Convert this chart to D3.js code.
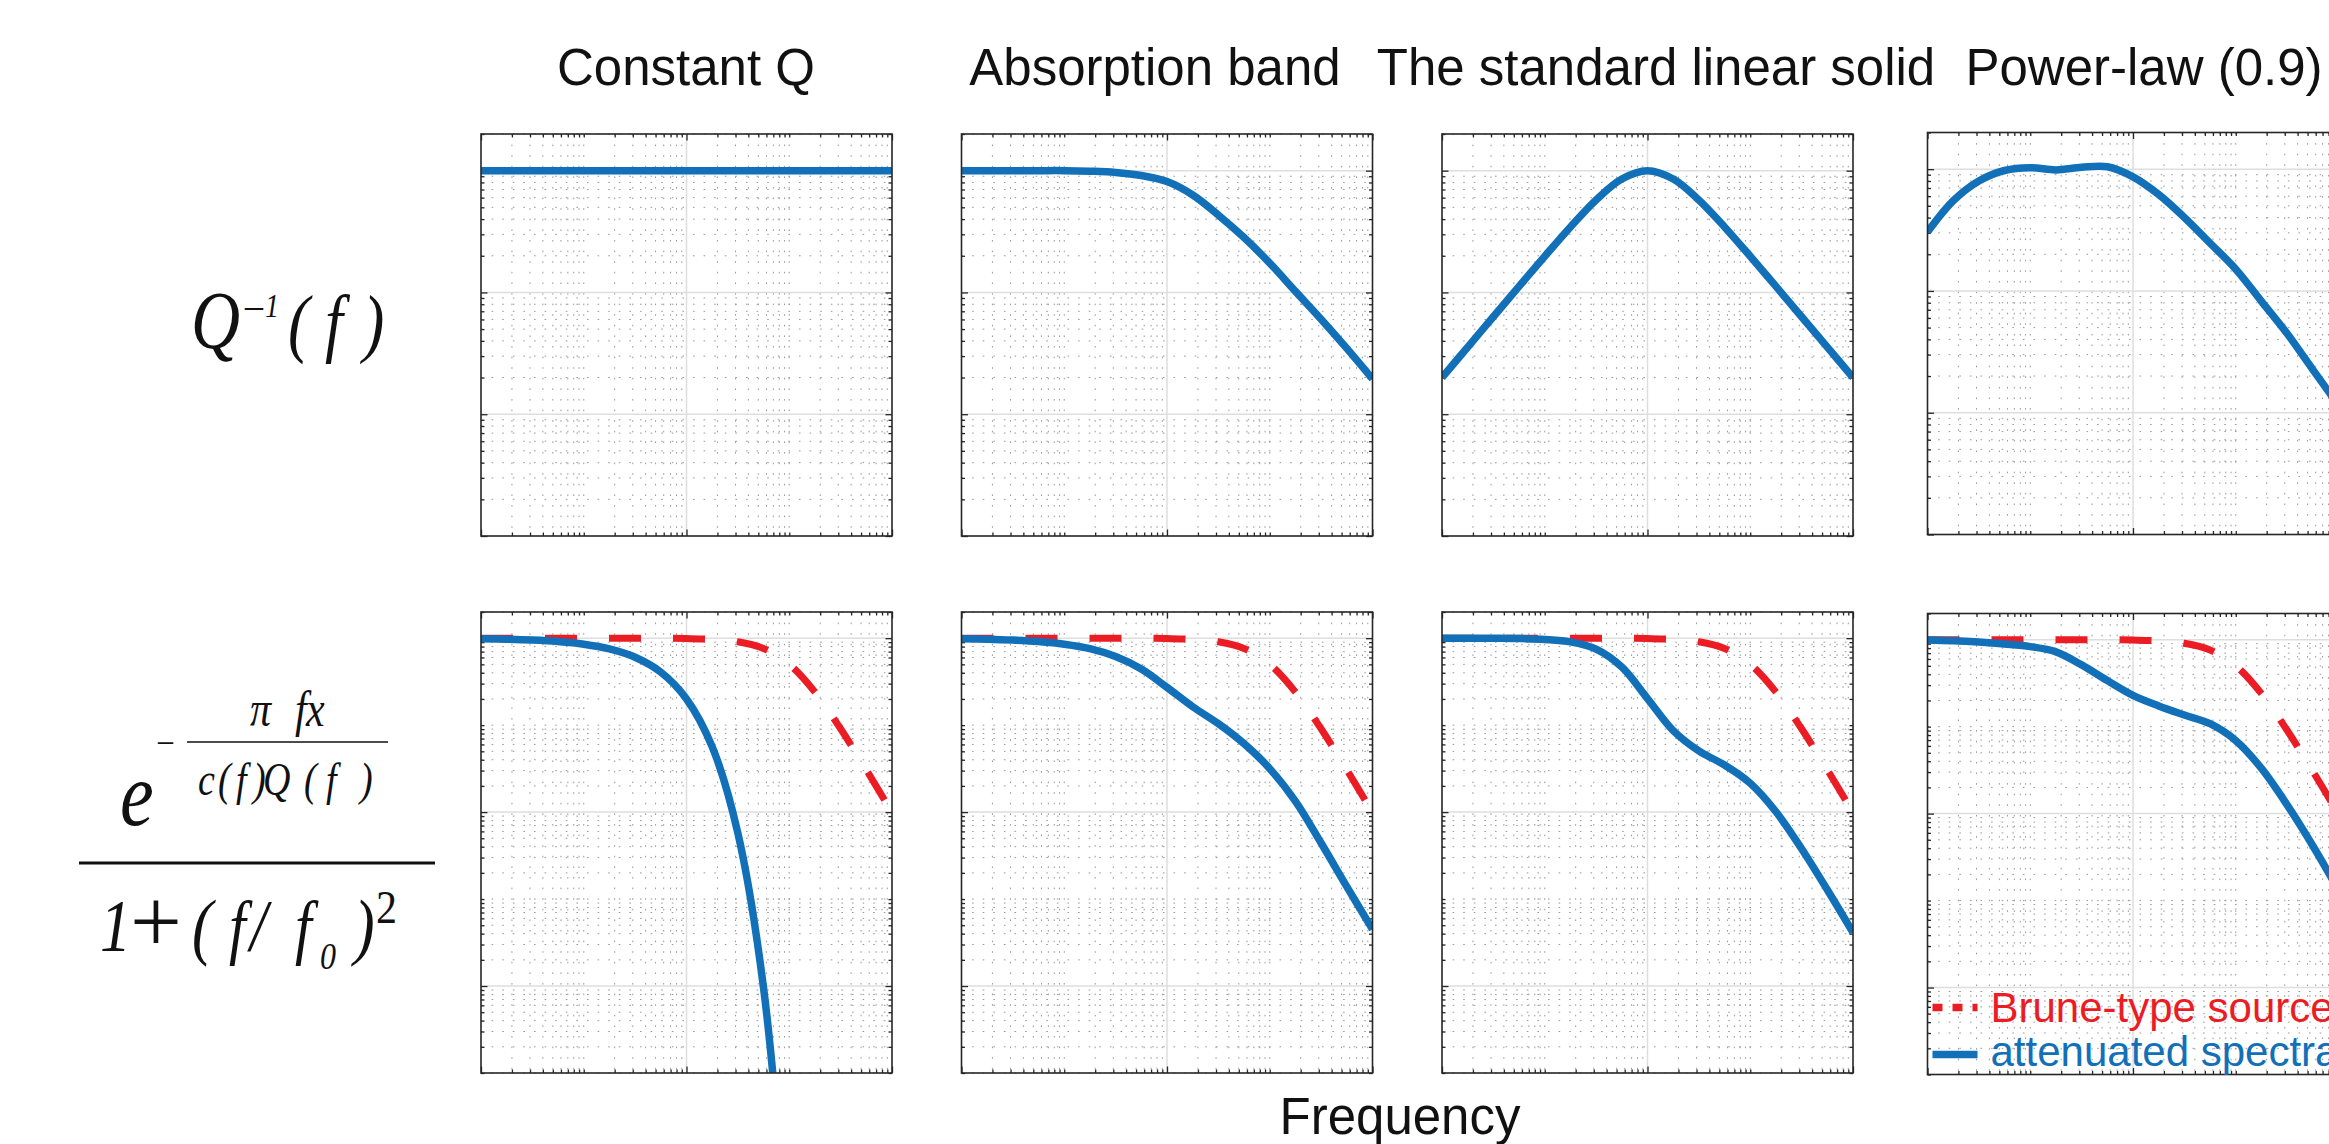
<!DOCTYPE html>
<html>
<head>
<meta charset="utf-8">
<script src="https://cdn.jsdelivr.net/npm/d3@7"></script>
<style>
  html, body { margin: 0; padding: 0; background: #fff; }
  svg { display: block; }
  .sans { font-family: "Liberation Sans", Arial, Helvetica, sans-serif; }
  .math { font-family: "Liberation Serif", "Times New Roman", serif; fill: #111; }
</style>
</head>
<body>
<svg id="chart" width="2329" height="1144"></svg>
<script>
// ---- data -----------------------------------------------------------------
// normalised frequency, quarter-decade samples
const frequency = [0.01, 0.0178, 0.0316, 0.0562, 0.1, 0.178, 0.316, 0.562, 1,
                   1.78, 3.16, 5.62, 10, 17.8, 31.6, 56.2, 100];

const models = ["Constant Q", "Absorption band", "The standard linear solid", "Power-law (0.9)"];

// Q^-1(f), normalised
const qConstant   = [1, 1, 1, 1, 1, 1, 1, 1, 1, 1, 1, 1, 1, 1, 1, 1, 1];
const qAbsorption = [1, 1, 1, 1, 1, 0.989, 0.966, 0.912, 0.813, 0.631, 0.432, 0.282,
                     0.174, 0.102, 0.0603, 0.0347, 0.0195];
const qSLS        = [0.02, 0.0356, 0.0632, 0.112, 0.198, 0.345, 0.575, 0.855, 1,
                     0.855, 0.575, 0.345, 0.198, 0.112, 0.0632, 0.0356, 0.02];
const qPowerLaw   = [0.305, 0.55, 0.8, 0.975, 1.028, 0.986, 1.035, 1.047, 0.865,
                     0.619, 0.401, 0.247, 0.151, 0.0822, 0.0447, 0.0226, 0.0115];

// Brune-type source spectrum
const bruneSource = [1, 1, 1, 1, 1, 1, 0.999, 0.997, 0.99, 0.969, 0.909, 0.76,
                     0.5, 0.24, 0.0909, 0.0307, 0.0099];

// attenuated spectra
const attConstant   = [0.984, 0.972, 0.951, 0.914, 0.853, 0.752, 0.603, 0.407, 0.2,
                       0.0562, 0.00575, 9.55e-5, 5.75e-8, null, null, null, null];
const attAbsorption = [0.984, 0.973, 0.951, 0.914, 0.853, 0.757, 0.614, 0.442, 0.272,
                       0.163, 0.104, 0.0612, 0.0316, 0.0133, 0.00441, 0.00139, 0.000448];
const attSLS        = [1, 1, 0.998, 0.991, 0.968, 0.908, 0.748, 0.465, 0.202,
                       0.0865, 0.0505, 0.0348, 0.0215, 0.0101, 0.00379, 0.00128, 0.000413];
const attPowerLaw   = [0.993, 0.973, 0.938, 0.891, 0.832, 0.724, 0.513, 0.339, 0.229,
                       0.173, 0.136, 0.108, 0.0692, 0.0331, 0.0126, 0.00427, 0.00132];

const xMajorTicks       = [0.01, 1, 100];
const yTopMajorTicks    = [0.001, 0.01, 0.1, 1];
const yBottomMajorTicks = [1e-4, 1e-2, 1];
const legendLabels      = ["Brune-type source", "attenuated spectra"];
const axisLabel         = "Frequency";

// ---- layout ---------------------------------------------------------------
const BLUE = "#1170B8", RED = "#EC1C24";
const PW = 411;
const panelLeft = [481, 961.5, 1442, 1927.5];
const topRowY = [134, 134, 134, 132.5], TOP_H = 402;
const botRowY = [612, 612, 612, 613.5], BOT_H = 461;
const titleX = [686, 1155, 1656, 2144];

const svg = d3.select("#chart");
svg.append("rect").attr("width", 2329).attr("height", 1144).attr("fill", "#fff");
const defs = svg.append("defs");

const x = d3.scaleLog().domain([0.01, 100]).range([0, PW]);
const yTop = d3.scaleLog().domain([1e-3, 2]).range([TOP_H, 0]);
const yBot = d3.scaleLog().domain([1e-5, 2]).range([BOT_H, 0]);

function logValues(domain) {
  const [lo, hi] = domain, out = [];
  for (let e = Math.floor(Math.log10(lo)); e <= Math.ceil(Math.log10(hi)); e++) {
    for (let m = 1; m <= 9; m++) {
      const v = m * Math.pow(10, e);
      if (v >= lo * 0.999 && v <= hi * 1.001) out.push(v);
    }
  }
  return out;
}
function minorOf(scale, majors) {
  return logValues(scale.domain()).filter(v => !majors.some(m => Math.abs(m - v) / m < 1e-6));
}

let clipCount = 0;
function drawFrame(g, w, h, y, yMajors) {
  const xMinor = minorOf(x, xMajorTicks), yMinor = minorOf(y, yMajors);
  const grid = g.append("g");
  // dotted minor grid
  grid.append("g").selectAll("line").data(xMinor).join("line")
    .attr("x1", d => x(d)).attr("x2", d => x(d)).attr("y1", 0).attr("y2", h)
    .attr("stroke", "#999").attr("stroke-width", 1).attr("stroke-dasharray", "1.6 9");
  grid.append("g").selectAll("line").data(yMinor).join("line")
    .attr("y1", d => y(d)).attr("y2", d => y(d)).attr("x1", 0).attr("x2", w)
    .attr("stroke", "#999").attr("stroke-width", 1).attr("stroke-dasharray", "1.6 9");
  // solid major grid
  grid.append("g").selectAll("line").data(xMajorTicks.filter(d => x(d) > 1 && x(d) < w - 1)).join("line")
    .attr("x1", d => x(d)).attr("x2", d => x(d)).attr("y1", 0).attr("y2", h)
    .attr("stroke", "#dedede").attr("stroke-width", 1.5);
  grid.append("g").selectAll("line").data(yMajors.filter(d => y(d) > 1 && y(d) < h - 1)).join("line")
    .attr("y1", d => y(d)).attr("y2", d => y(d)).attr("x1", 0).attr("x2", w)
    .attr("stroke", "#dedede").attr("stroke-width", 1.5);

  // inward ticks on all four sides
  const tickStyle = sel => {
    sel.select(".domain").remove();
    sel.selectAll("line").attr("stroke", "#262626").attr("stroke-width", 1.3);
  };
  [[xMinor, -3.5], [xMajorTicks, -6.5]].forEach(([vals, len]) => {
    g.append("g").attr("transform", `translate(0,${h})`)
      .call(d3.axisBottom(x).tickValues(vals).tickSize(len).tickFormat("")).call(tickStyle);
    g.append("g")
      .call(d3.axisTop(x).tickValues(vals).tickSize(len).tickFormat("")).call(tickStyle);
  });
  [[yMinor, -3.5], [yMajors, -6.5]].forEach(([vals, len]) => {
    g.append("g")
      .call(d3.axisLeft(y).tickValues(vals).tickSize(len).tickFormat("")).call(tickStyle);
    g.append("g").attr("transform", `translate(${w},0)`)
      .call(d3.axisRight(y).tickValues(vals).tickSize(len).tickFormat("")).call(tickStyle);
  });

  const id = "clip" + (clipCount++);
  defs.append("clipPath").attr("id", id).append("rect").attr("width", w).attr("height", h);
  return g.append("g").attr("clip-path", `url(#${id})`);
}

function seriesLine(y, values) {
  const pts = frequency.map((f, i) => ({ f, v: values[i] }));
  return d3.line()
    .defined(d => d.v != null)
    .x(d => x(d.f)).y(d => y(d.v))
    .curve(d3.curveCatmullRom.alpha(0.5))(pts);
}

function drawBox(g, w, h) {
  g.append("rect").attr("width", w).attr("height", h)
    .attr("fill", "none").attr("stroke", "#262626").attr("stroke-width", 1.6);
}

const qSeries = [qConstant, qAbsorption, qSLS, qPowerLaw];
const attSeries = [attConstant, attAbsorption, attSLS, attPowerLaw];

models.forEach((name, i) => {
  // title
  svg.append("text").attr("class", "sans")
    .attr("x", titleX[i]).attr("y", 85)
    .attr("text-anchor", "middle").attr("font-size", 51).attr("fill", "#111")
    .text(name);

  // Q^-1(f) panel
  const gt = svg.append("g").attr("transform", `translate(${panelLeft[i]},${topRowY[i]})`);
  const pt = drawFrame(gt, PW, TOP_H, yTop, yTopMajorTicks);
  pt.append("path").attr("d", seriesLine(yTop, qSeries[i]))
    .attr("fill", "none").attr("stroke", BLUE).attr("stroke-width", 7.5);
  drawBox(gt, PW, TOP_H);

  // spectra panel
  const gb = svg.append("g").attr("transform", `translate(${panelLeft[i]},${botRowY[i]})`);
  const pb = drawFrame(gb, PW, BOT_H, yBot, yBottomMajorTicks);
  pb.append("path").attr("d", seriesLine(yBot, bruneSource))
    .attr("fill", "none").attr("stroke", RED).attr("stroke-width", 7)
    .attr("stroke-dasharray", "32 32");
  pb.append("path").attr("d", seriesLine(yBot, attSeries[i]))
    .attr("fill", "none").attr("stroke", BLUE).attr("stroke-width", 7.5);
  drawBox(gb, PW, BOT_H);

  if (i === 3) {
    const lg = gb.append("g");
    const items = [
      { label: legendLabels[0], color: RED, dash: "10 10", ly: 394, ty: 408 },
      { label: legendLabels[1], color: BLUE, dash: null, ly: 441, ty: 452 }
    ];
    items.forEach(it => {
      lg.append("line").attr("x1", 5).attr("x2", 50).attr("y1", it.ly).attr("y2", it.ly)
        .attr("stroke", it.color).attr("stroke-width", 7.5)
        .attr("stroke-dasharray", it.dash);
      lg.append("text").attr("class", "sans").attr("x", 63).attr("y", it.ty)
        .attr("font-size", 42).attr("fill", it.color).text(it.label);
    });
  }
});

// x-axis label
svg.append("text").attr("class", "sans")
  .attr("x", 1400).attr("y", 1134).attr("text-anchor", "middle")
  .attr("font-size", 51).attr("fill", "#111").text(axisLabel);

// ---- row labels (typeset formulas, tall equation glyphs) -----------------
function glyph(txt, gx, gy, size, italic = true, k = 1.2) {
  svg.append("text").attr("class", "math")
    .attr("transform", `translate(${gx},${gy}) scale(1,${k})`)
    .attr("font-size", size)
    .attr("font-style", italic ? "italic" : "normal").text(txt);
}
function rule(x1, x2, y, w) {
  svg.append("line").attr("x1", x1).attr("x2", x2).attr("y1", y).attr("y2", y)
    .attr("stroke", "#111").attr("stroke-width", w);
}

// Q^-1(f)
glyph("Q", 191, 348, 68);
glyph("\u2013", 245, 319, 36, false);
glyph("1", 265, 317, 28);
glyph("(", 288, 348, 64);
glyph("f", 325, 348, 64);
glyph(")", 363, 348, 64);

// exp(-pi f x / (c(f)Q(f))) / (1 + (f/f0)^2)
glyph("e", 120, 825, 76);
glyph("\u2013", 158, 752, 30, false);
glyph("\u03C0", 250, 726, 42);
glyph("f", 295, 726, 42);
glyph("x", 306, 726, 42);
rule(187, 388, 742, 1.6);
glyph("c", 198, 795, 38);
glyph("(", 218, 795, 38);
glyph("f", 236, 795, 38);
glyph(")", 253, 795, 38);
glyph("Q", 263, 795, 38);
glyph("(", 304, 795, 38);
glyph("f", 326, 795, 38);
glyph(")", 360, 795, 38);
rule(79, 435, 863, 3);
glyph("1", 100, 951, 62);
glyph("+", 130, 952, 92, false, 1);
glyph("(", 192, 951, 62);
glyph("f", 229, 951, 60);
glyph("/", 250, 951, 62);
glyph("f", 295, 951, 60);
glyph("0", 320, 969, 32);
glyph(")", 354, 951, 62);
glyph("2", 376, 923, 42, false, 1.1);
</script>
</body>
</html>
